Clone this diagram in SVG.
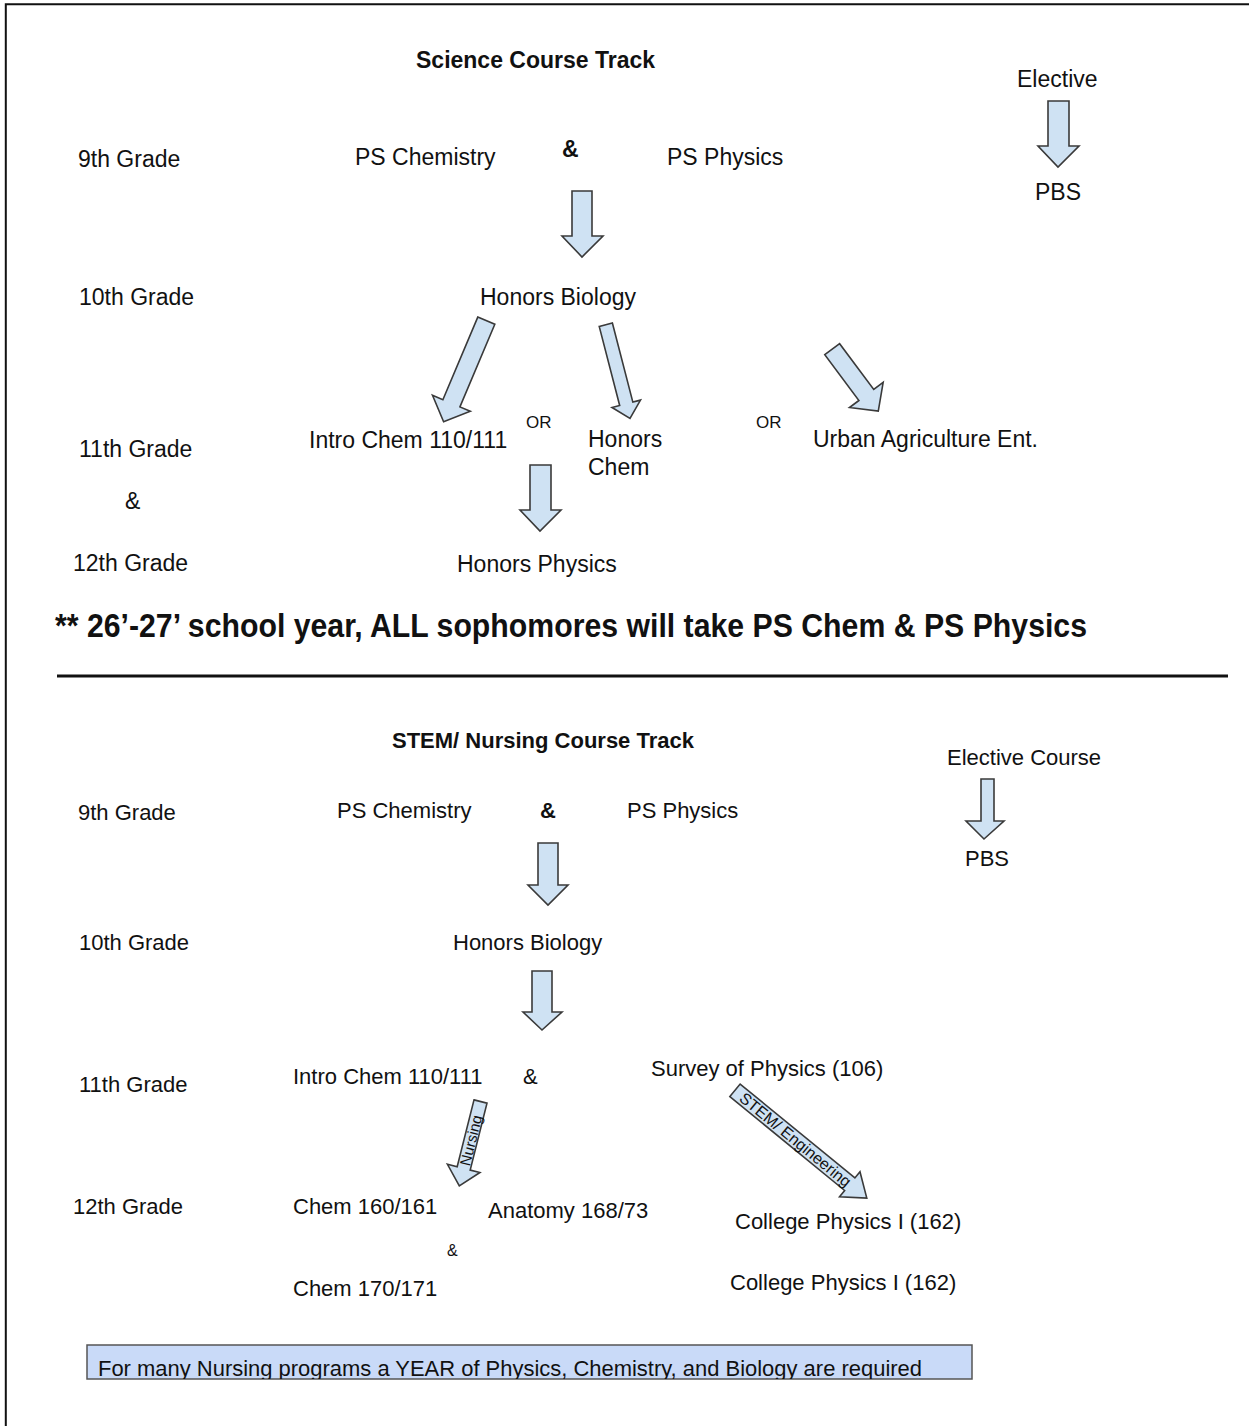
<svg xmlns="http://www.w3.org/2000/svg" width="1249" height="1426" viewBox="0 0 1249 1426">
<style>
text{font-family:"Liberation Sans",Arial,sans-serif;fill:#111}
.t{font-size:23px}
.s{font-size:22px}
.b{font-weight:bold}
.or{font-size:17px}
.arr{fill:#cfe2f3;stroke:#3a3a3a;stroke-width:1.6;stroke-linejoin:miter}
.lbl{font-size:15px}
</style>
<defs>
<clipPath id="boxclip"><rect x="87" y="1345" width="885" height="34"/></clipPath>
</defs>
<rect width="1249" height="1426" fill="#fff"/>
<path d="M5.8,1426 V4.3 H1249" fill="none" stroke="#111" stroke-width="2"/>

<g id="connectors">
<polygon class="arr" points="1048,101 1069,101 1069,146 1079,146 1058,167 1038,146 1048,146"/>
<polygon class="arr" points="572,191 592,191 592,236 603,236 582,257 562,236 572,236"/>
<polygon class="arr" points="530,465 551,465 551,510 561,510 540,531 520,510 530,510"/>
<path class="arr" transform="translate(486.3,320.7) rotate(22.9)" d="M-9.25,0 L9.25,0 L9.25,89.7 L20.5,89.7 L0,109.7 L-20.5,89.7 L-9.25,89.7 Z"/>
<path class="arr" transform="translate(605.8,324.7) rotate(-14.5)" d="M-6.8,0 L6.8,0 L6.8,81.7 L14.7,81.7 L0,96.7 L-14.7,81.7 L-6.8,81.7 Z"/>
<path class="arr" transform="translate(832.2,349.2) rotate(-36.7)" d="M-9.25,0 L9.25,0 L9.25,57.1 L21,57.1 L0,77.1 L-21,57.1 L-9.25,57.1 Z"/>
<polygon class="arr" points="981,779 994,779 994,821 1004,821 984,839 966,821 981,821"/>
<polygon class="arr" points="538,843 558,843 558,885 568,885 548,905 528,885 538,885"/>
<polygon class="arr" points="532,971 552,971 552,1012 562,1012 542,1030 523,1012 532,1012"/>
<g transform="translate(480.5,1101.5) rotate(14.1)">
<path class="arr" d="M-6.7,0 L6.7,0 L6.7,69 L16.75,69 L0,87 L-16.75,69 L-6.7,69 Z"/>
<text class="lbl" transform="translate(0,40) rotate(-90)" text-anchor="middle" dominant-baseline="central">Nursing</text>
</g>
<g transform="translate(735,1090.3) rotate(-50.7)">
<path class="arr" d="M-8.1,0 L8.1,0 L8.1,148.3 L16.15,148.3 L0,170.3 L-16.15,148.3 L-8.1,148.3 Z"/>
<text class="lbl" style="font-size:16px" transform="translate(0,78) rotate(90)" text-anchor="middle" dominant-baseline="central">STEM/ Engineering</text>
</g>
</g>

<g id="science-track">
<text class="t b" x="416" y="68">Science Course Track</text>
<g id="g9a"><text class="t" x="78" y="167">9th Grade</text></g>
<g id="pschem-a"><text class="t" x="355" y="165">PS Chemistry</text></g>
<g id="amp-a"><text class="t b" x="562" y="157">&amp;</text></g>
<g id="psphys-a"><text class="t" x="667" y="165">PS Physics</text></g>
<g id="elective-a"><text class="t" x="1017" y="87">Elective</text></g>
<g id="pbs-a"><text class="t" x="1035" y="200">PBS</text></g>
<g id="g10a"><text class="t" x="79" y="305">10th Grade</text></g>
<g id="hbio-a"><text class="t" x="480" y="305">Honors Biology</text></g>
<g id="g11a"><text class="t" x="79" y="457">11th Grade</text></g>
<g id="amp-a2"><text class="t" x="125" y="509">&amp;</text></g>
<g id="g12a"><text class="t" x="73" y="571">12th Grade</text></g>
<g id="introchem-a"><text class="t" x="309" y="448">Intro Chem 110/111</text></g>
<g id="or1"><text class="or" x="526" y="428">OR</text></g>
<g id="hchem"><text class="t" x="588" y="447">Honors</text><text class="t" x="588" y="475">Chem</text></g>
<g id="or2"><text class="or" x="756" y="428">OR</text></g>
<g id="urban"><text class="t" x="813" y="447">Urban Agriculture Ent.</text></g>
<g id="hphys"><text class="t" x="457" y="572">Honors Physics</text></g>
<g id="note"><text class="b" style="font-size:33px" x="55" y="637" textLength="1032" lengthAdjust="spacingAndGlyphs">** 26’-27’ school year, ALL sophomores will take PS Chem &amp; PS Physics</text></g>
<line x1="57" y1="676" x2="1228" y2="676" stroke="#111" stroke-width="3"/>
</g>

<g id="stem-track">
<text class="s b" x="392" y="748">STEM/ Nursing Course Track</text>
<g id="elective-b"><text class="s" x="947" y="765">Elective Course</text></g>
<g id="g9b"><text class="s" x="78" y="820">9th Grade</text></g>
<g id="pschem-b"><text class="s" x="337" y="818">PS Chemistry</text></g>
<g id="amp-b"><text class="s b" x="540" y="818">&amp;</text></g>
<g id="psphys-b"><text class="s" x="627" y="818">PS Physics</text></g>
<g id="pbs-b"><text class="s" x="965" y="866">PBS</text></g>
<g id="g10b"><text class="s" x="79" y="950">10th Grade</text></g>
<g id="hbio-b"><text class="s" x="453" y="950">Honors Biology</text></g>
<g id="g11b"><text class="s" x="79" y="1092">11th Grade</text></g>
<g id="introchem-b"><text class="s" x="293" y="1084">Intro Chem 110/111</text></g>
<g id="amp-b2"><text class="s" x="523" y="1084">&amp;</text></g>
<g id="survey"><text class="s" x="651" y="1076">Survey of Physics (106)</text></g>
<g id="g12b"><text class="s" x="73" y="1214">12th Grade</text></g>
<g id="chem160"><text class="s" x="293" y="1214">Chem 160/161</text></g>
<g id="anatomy"><text class="s" x="488" y="1218">Anatomy 168/73</text></g>
<g id="amp-b3"><text style="font-size:16px" x="447" y="1256">&amp;</text></g>
<g id="chem170"><text class="s" x="293" y="1296">Chem 170/171</text></g>
<g id="cp1"><text class="s" x="735" y="1229">College Physics I (162)</text></g>
<g id="cp2"><text class="s" x="730" y="1290">College Physics I (162)</text></g>
<g id="nursing-box">
<rect x="87" y="1345" width="885" height="34" fill="#c9daf8" stroke="#555" stroke-width="1.5"/>
<text class="s" x="98" y="1376" textLength="824" lengthAdjust="spacingAndGlyphs" clip-path="url(#boxclip)">For many Nursing programs a YEAR of Physics, Chemistry, and Biology are required</text>
</g>
</g>
</svg>
